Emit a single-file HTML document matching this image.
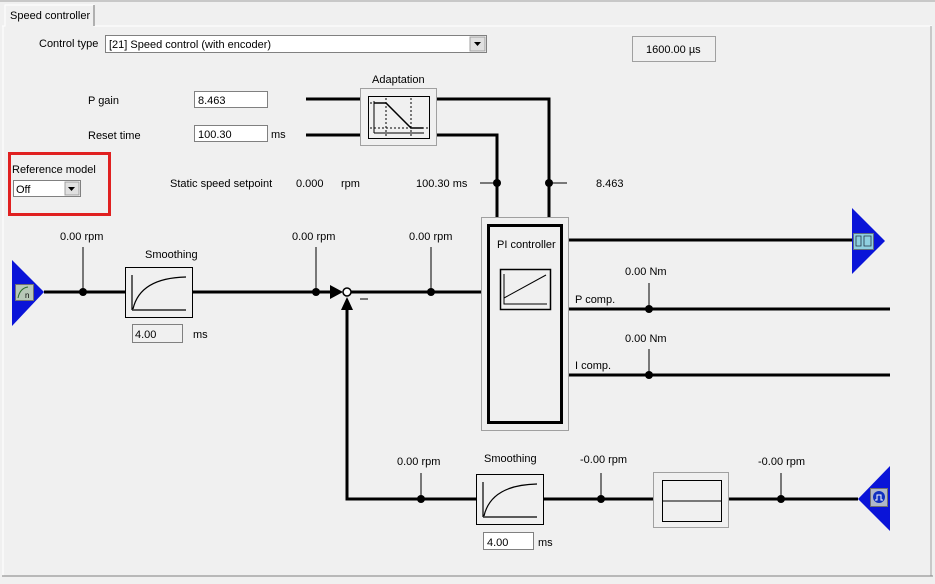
<!DOCTYPE html>
<html><head><meta charset="utf-8"><style>
body{margin:0;width:935px;height:579px;background:#f0f0f0;overflow:hidden;font-family:"Liberation Sans",sans-serif;}
svg text{font-family:"Liberation Sans",sans-serif;font-size:11px;fill:#000;}
</style></head><body>
<svg width="935" height="579" xmlns="http://www.w3.org/2000/svg">
<rect width="935" height="579" fill="#f0f0f0"/>
<!-- top border & tab -->
<line x1="0" y1="1" x2="935" y2="1" stroke="#a0a0a0"/>
<path d="M2 26 H5 V5 H94 V26 H932" fill="none" stroke="#fff"/>
<line x1="94" y1="5" x2="94" y2="26" stroke="#707070"/>
<line x1="3" y1="26" x2="3" y2="576" stroke="#fff"/>
<line x1="931" y1="26" x2="931" y2="576" stroke="#a0a0a0"/>
<line x1="2" y1="576" x2="933" y2="576" stroke="#808080"/>
<text x="10" y="19">Speed controller</text>
<!-- control type -->
<text x="39" y="47">Control type</text>
<rect x="105.5" y="35.5" width="381" height="17" fill="#fff" stroke="#808080"/>
<text x="109" y="48">[21] Speed control (with encoder)</text>
<rect x="470" y="37" width="15" height="14" fill="#e0e0e0" stroke="#a0a0a0"/>
<path d="M474 42 h7 l-3.5 4z" fill="#000"/>
<rect x="632.5" y="36.5" width="83" height="25" fill="#f0f0f0" stroke="#a0a0a0"/>
<text x="646" y="53">1600.00 µs</text>
<!-- P gain / Reset -->
<text x="88" y="104">P gain</text>
<rect x="194.5" y="91.5" width="73" height="16" fill="#fff" stroke="#808080"/>
<text x="198" y="104">8.463</text>
<text x="88" y="139">Reset time</text>
<rect x="194.5" y="125.5" width="73" height="16" fill="#fff" stroke="#808080"/>
<text x="198" y="138">100.30</text>
<text x="271" y="138">ms</text>
<!-- Adaptation -->
<text x="372" y="83">Adaptation</text>
<g stroke="#000" fill="none">
<line x1="306" y1="99" x2="360" y2="99" stroke-width="3"/>
<line x1="306" y1="135" x2="360" y2="135" stroke-width="3"/>
<polyline points="437,99 549,99 549,226" stroke-width="3"/>
<polyline points="437,135 497,135 497,226" stroke-width="3"/>
<line x1="480" y1="183" x2="497" y2="183"/>
<line x1="549" y1="183" x2="567" y2="183"/>
</g>
<rect x="360.5" y="88.5" width="76" height="57" fill="#f0f0f0" stroke="#a0a0a0"/>
<rect x="368.5" y="96.5" width="61" height="42" fill="none" stroke="#000"/>
<g stroke="#000" fill="none">
<polyline points="374,103 386,103 411,128 423,128" stroke-width="1.5"/>
<line x1="374" y1="101" x2="374" y2="133"/><line x1="374" y1="133" x2="424" y2="133"/>
<line x1="386" y1="98" x2="386" y2="137" stroke-dasharray="2,2"/>
<line x1="411" y1="98" x2="411" y2="137" stroke-dasharray="2,2"/>
<line x1="370" y1="128" x2="428" y2="128" stroke-dasharray="2,2"/>
<line x1="370" y1="103" x2="386" y2="103" stroke-dasharray="2,2"/>
</g>
<circle cx="497" cy="183" r="4"/><circle cx="549" cy="183" r="4"/>
<text x="170" y="187">Static speed setpoint</text>
<text x="296" y="187">0.000</text>
<text x="341" y="187">rpm</text>
<text x="416" y="187">100.30 ms</text>
<text x="596" y="187">8.463</text>
<!-- reference model -->
<rect x="9.5" y="153.5" width="100" height="61" fill="none" stroke="#e02020" stroke-width="3"/>
<text x="12" y="173">Reference model</text>
<rect x="13.5" y="180.5" width="67" height="16" fill="#fff" stroke="#808080"/>
<text x="16" y="193">Off</text>
<rect x="65" y="182" width="14" height="13" fill="#e0e0e0" stroke="#a0a0a0"/>
<path d="M68 187 h7 l-3.5 4z" fill="#000"/>
<!-- main path -->
<g stroke="#000" fill="none" stroke-width="3">
<line x1="44" y1="292" x2="125" y2="292"/>
<line x1="193" y1="292" x2="332" y2="292"/>
<line x1="351" y1="292" x2="488" y2="292"/>
<polyline points="347,305 347,499 476,499"/>
<line x1="544" y1="499" x2="653" y2="499"/>
<line x1="729" y1="499" x2="858" y2="499"/>
<line x1="569" y1="240" x2="853" y2="240"/>
<line x1="569" y1="309" x2="890" y2="309"/>
<line x1="569" y1="375" x2="890" y2="375"/>
</g>
<g stroke="#000" stroke-width="1">
<line x1="83" y1="247" x2="83" y2="292"/>
<line x1="316" y1="247" x2="316" y2="292"/>
<line x1="431" y1="247" x2="431" y2="292"/>
<line x1="421" y1="473" x2="421" y2="499"/>
<line x1="601" y1="473" x2="601" y2="499"/>
<line x1="781" y1="473" x2="781" y2="499"/>
<line x1="649" y1="283" x2="649" y2="309"/>
<line x1="649" y1="349" x2="649" y2="375"/>
<line x1="360" y1="299" x2="368" y2="299"/>
</g>
<g fill="#000">
<circle cx="83" cy="292" r="4"/><circle cx="316" cy="292" r="4"/><circle cx="431" cy="292" r="4"/>
<circle cx="421" cy="499" r="4"/><circle cx="601" cy="499" r="4"/><circle cx="781" cy="499" r="4"/>
<circle cx="649" cy="309" r="4"/><circle cx="649" cy="375" r="4"/>
<path d="M330 285 L343 292 L330 299z"/>
<path d="M341 310 L347 297 L353 310z"/>
</g>
<circle cx="347" cy="292" r="4" fill="#fff" stroke="#000" stroke-width="1.5"/>
<text x="60" y="240">0.00 rpm</text>
<text x="292" y="240">0.00 rpm</text>
<text x="409" y="240">0.00 rpm</text>
<text x="397" y="465">0.00 rpm</text>
<text x="580" y="463">-0.00 rpm</text>
<text x="758" y="465">-0.00 rpm</text>
<text x="625" y="275">0.00 Nm</text>
<text x="625" y="342">0.00 Nm</text>
<text x="575" y="303">P comp.</text>
<text x="575" y="369">I comp.</text>
<!-- input triangle -->
<path d="M12 260 L44 292 L12 326z" fill="#0a14d8"/>
<rect x="15.5" y="284.5" width="18" height="16" fill="#b8c8b8" stroke="#707070"/>
<path d="M18 298 Q20 288 28 287" stroke="#2a6a2a" fill="none"/>
<text x="25" y="298" style="font-size:8px">n</text>
<!-- smoothing 1 -->
<text x="145" y="258">Smoothing</text>
<rect x="125.5" y="267.5" width="67" height="50" fill="none" stroke="#000"/>
<path d="M132 310 V275 M132 310 H186 M133 309 Q140 278 186 277" stroke="#000" fill="none" stroke-width="1.2"/>
<rect x="132.5" y="324.5" width="50" height="18" fill="#f0f0f0" stroke="#808080"/>
<text x="135" y="338">4.00</text>
<text x="193" y="338">ms</text>
<!-- PI controller -->
<rect x="481.5" y="217.5" width="87" height="213" fill="#f0f0f0" stroke="#a0a0a0"/>
<rect x="488.5" y="225.5" width="73" height="197" fill="none" stroke="#000" stroke-width="3"/>
<text x="497" y="248">PI controller</text>
<rect x="500.5" y="269.5" width="50" height="40" fill="none" stroke="#000" stroke-width="1.5"/>
<path d="M504 274 V304 H547 M504 298 L546 275" stroke="#000" fill="none"/>
<!-- output triangle -->
<path d="M852 208 L885 241 L852 274z" fill="#0a14d8"/>
<rect x="853.5" y="233.5" width="20" height="16" fill="#8fd0e0" stroke="#607080"/>
<path d="M856 236 h5 v10 h-5z M864 236 h7 v10 h-7z" stroke="#234" fill="none" stroke-width="0.8"/>
<!-- bottom smoothing -->
<text x="484" y="462">Smoothing</text>
<rect x="476.5" y="474.5" width="67" height="50" fill="none" stroke="#000"/>
<path d="M483 517 V482 M483 517 H537 M484 516 Q491 485 537 484" stroke="#000" fill="none" stroke-width="1.2"/>
<rect x="483.5" y="532.5" width="50" height="17" fill="#fff" stroke="#808080"/>
<text x="487" y="546">4.00</text>
<text x="538" y="546">ms</text>
<rect x="653.5" y="472.5" width="75" height="55" fill="#f0f0f0" stroke="#a0a0a0"/>
<rect x="662.5" y="480.5" width="59" height="41" fill="none" stroke="#000"/>
<line x1="662" y1="501" x2="722" y2="501" stroke="#000"/>
<!-- encoder triangle -->
<path d="M890 466 L858 499 L890 531z" fill="#0a14d8"/>
<rect x="870.5" y="488.5" width="17" height="18" fill="#b0b8c8" stroke="#707070"/>
<circle cx="879" cy="497" r="6" fill="#1030c0"/>
<path d="M875 500 h2 v-5 h4 v5 h2" stroke="#fff" fill="none"/>
</svg>
</body></html>
